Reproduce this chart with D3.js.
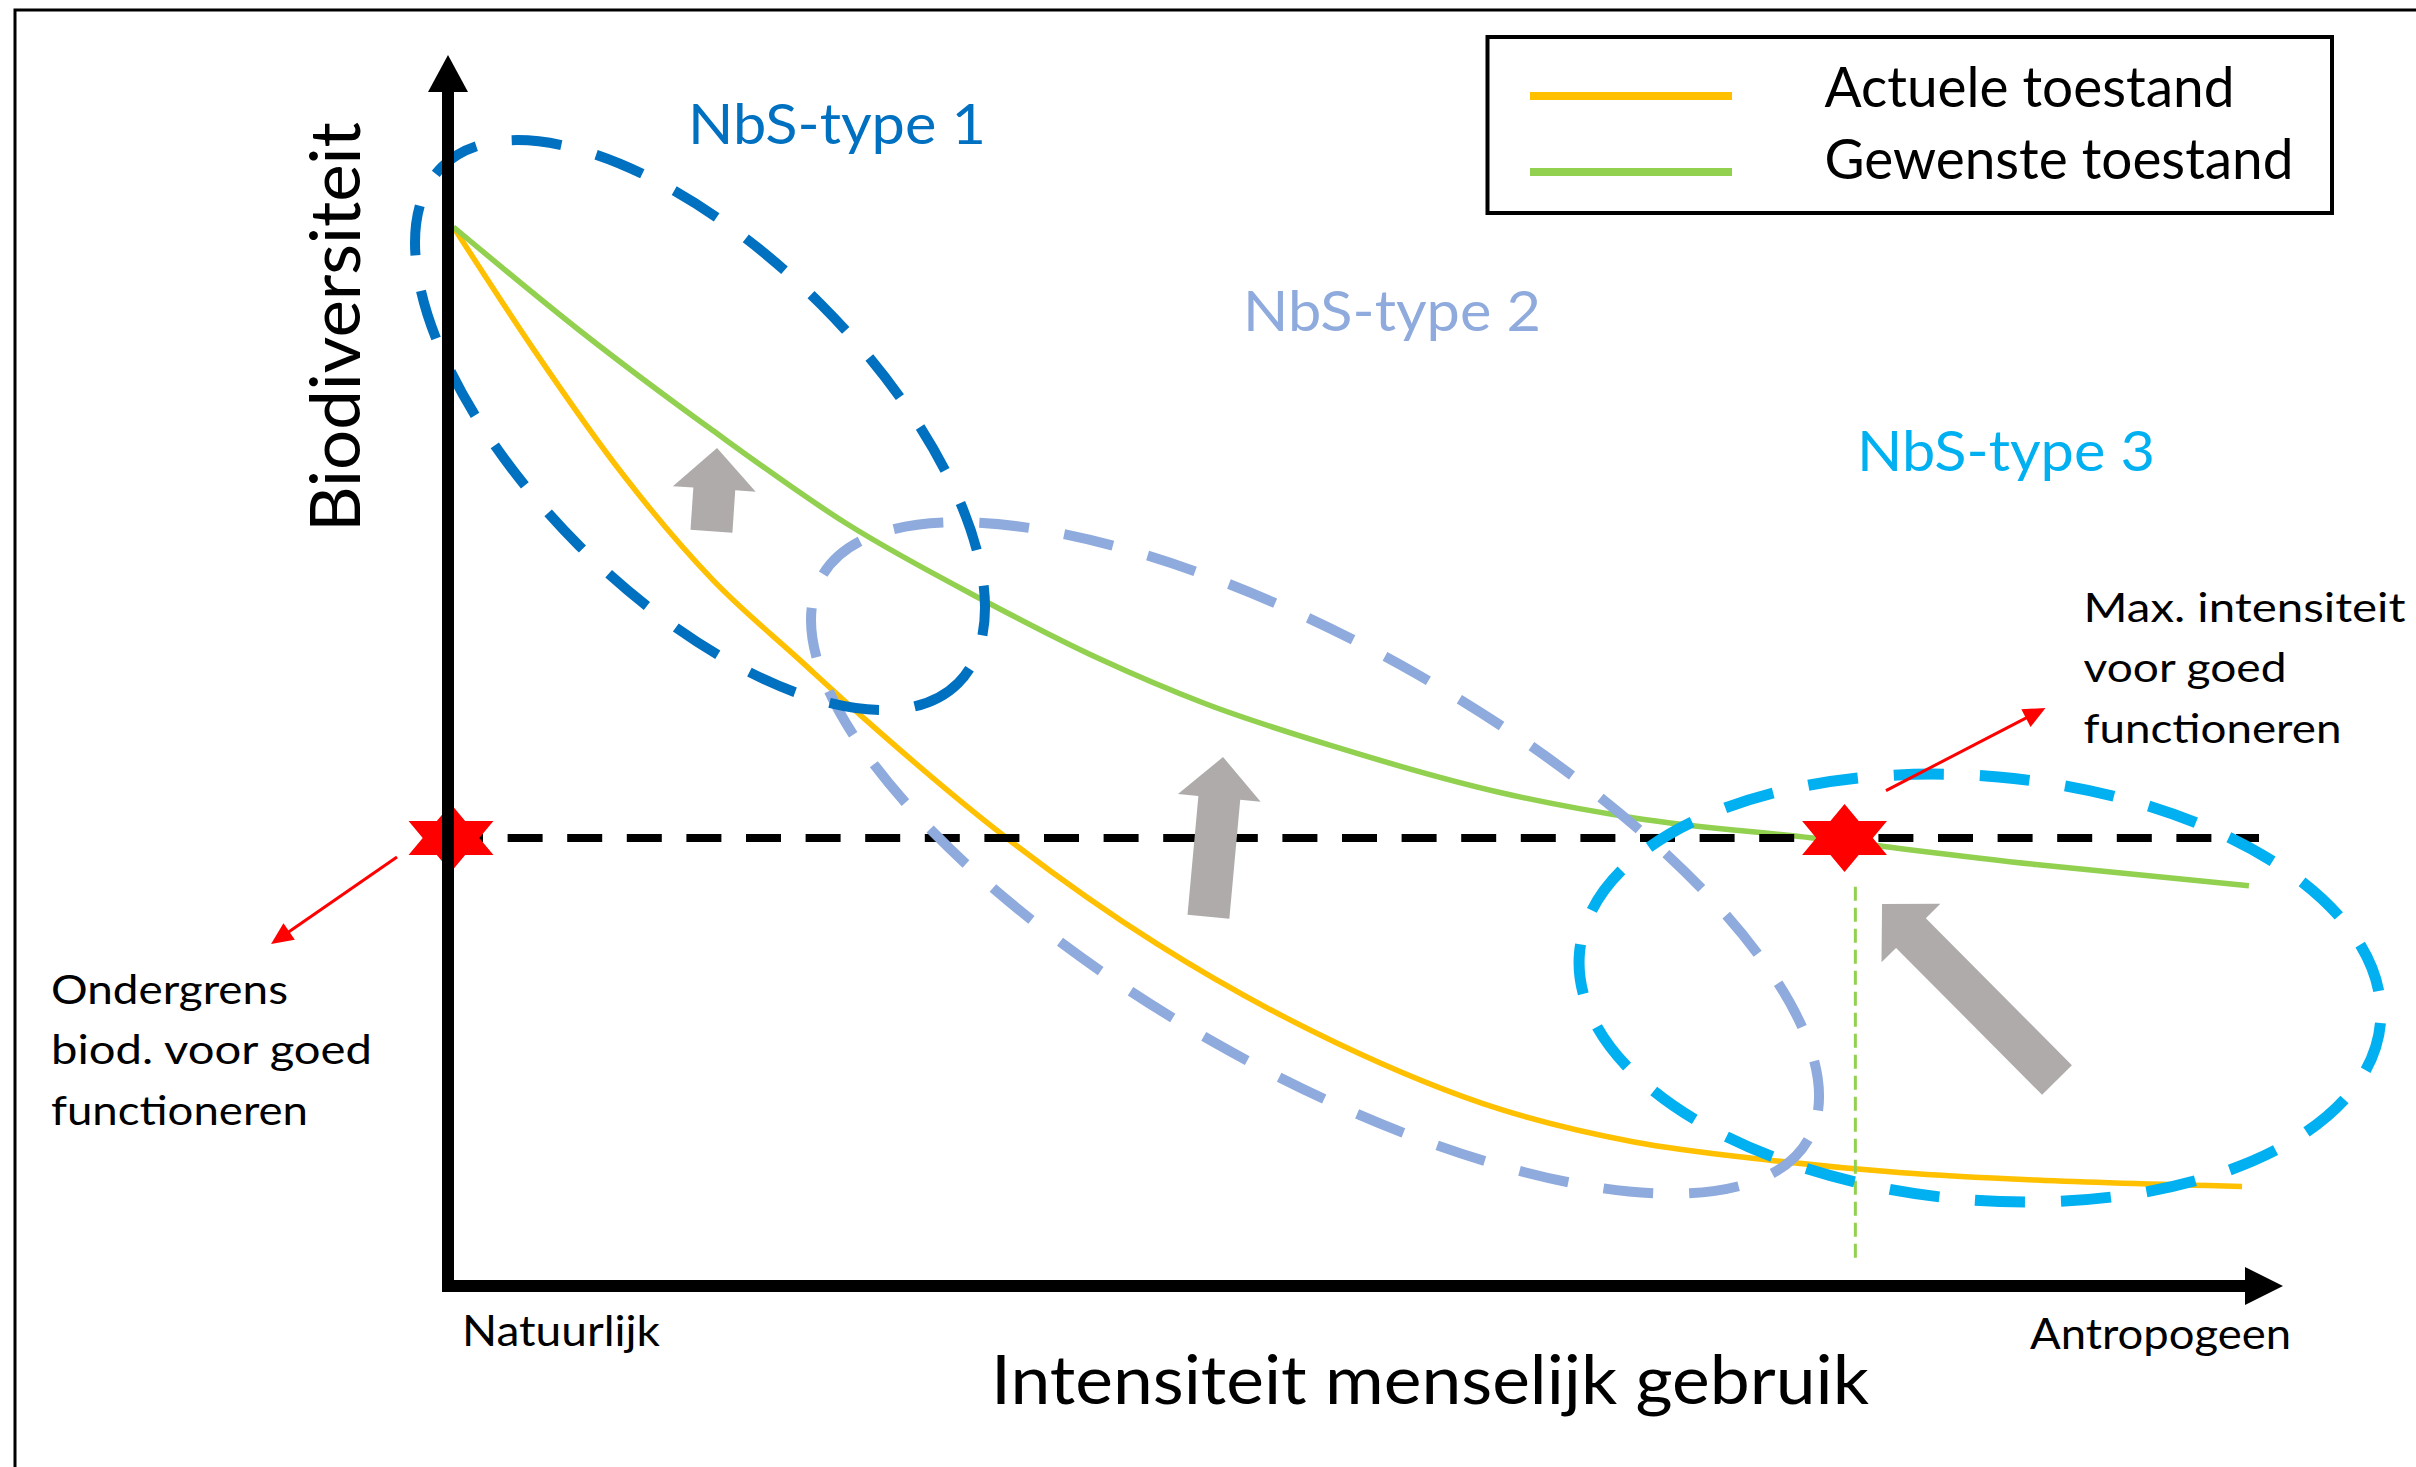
<!DOCTYPE html>
<html lang="nl">
<head>
<meta charset="UTF-8">
<title>Biodiversiteit en intensiteit menselijk gebruik</title>
<script src="https://d3js.org/d3.v7.min.js"></script>
<style>
  body { margin: 0; background: #fff; }
  svg { display: block; }
  text { font-family: Lato, "Open Sans", sans-serif; }
</style>
</head>
<body>
<div id="chart"></div>
<script>
// x: intensiteit menselijk gebruik (0 = natuurlijk, 100 = antropogeen)
// y: biodiversiteit (0 - 100)
var actueelX = [0.3, 4.77, 9.72, 14.68, 19.53, 23.09, 30.93, 39.35, 49.26, 58.38, 65.82, 73.25, 80.69, 88.12, 99.56];
var actueelY = [100, 88.4, 76.6, 66.7, 59.1, 53.6, 42.4, 32.3, 23.0, 16.7, 13.6, 11.9, 10.7, 10.0, 9.4];
var gewenstX = [0.3, 7.25, 14.68, 22.11, 29.55, 36.18, 42, 49.26, 58.38, 65.82, 75.72, 88.11, 99.94];
var gewenstY = [100, 90.3, 80.8, 72.0, 64.9, 59.2, 55.0, 50.9, 46.6, 44.2, 42.3, 39.8, 37.8];

var ondergrens = 42.3;      // ondergrens biodiversiteit voor goed functioneren
var drempelEinde = 100.5;
var maxIntensiteit = 77.5;  // ster op de gewenste curve
var loodlijnX = 78.1;
var loodlijnY = [37.7, 2.3];

// NbS-ellipsen: uiteinden van de lange as en verhouding korte / lange as
var nbsNamen = ["NbS-type 1", "NbS-type 2", "NbS-type 3"];
var nbsAsStart = [[-0.34, 105.67], [20.75, 67.03], [62.79, 31.44]];
var nbsAsEinde = [[28.31, 56.93], [75.48, 13.81], [107.24, 24.83]];
var nbsVerhouding = [0.468, 0.37, 0.527];

// grijze pijlen (van -> naar)
var pijlVan = [[14.62, 71.27], [42.20, 34.87], [89.29, 19.45]];
var pijlNaar = [[14.93, 79.13], [43.01, 49.95], [79.58, 36.07]];

// rode aanwijspijlen bij de sterren
var wijsVan = [[-2.83, 40.51], [79.80, 46.78]];
var wijsNaar = [[-9.82, 32.29], [88.65, 54.58]];

var legendaLabels = ["Actuele toestand", "Gewenste toestand"];
var ondergrensTekst = ["Ondergrens", "biod. voor goed", "functioneren"];
var maxTekst = ["Max. intensiteit", "voor goed", "functioneren"];

var W = 2416, H = 1467;
var oranje = '#FFC000', groen = '#92D050', grijs = '#AFABAB', rood = '#FF0000';
var nbsKleur = ['#0070C0', '#8FAADC', '#00B0F0'];

var svg = d3.select('#chart').append('svg')
    .attr('width', W)
    .attr('height', H);

svg.append('rect').attr('width', W).attr('height', H).attr('fill', '#fff');

var x = d3.scaleLinear().domain([0, 100]).range([448, 2250]);
var y = d3.scaleLinear().domain([0, 100]).range([1286, 227]);

// kader (alleen links en boven zichtbaar)
svg.append('path')
    .attr('d', 'M15,' + H + 'V10H' + W)
    .attr('fill', 'none')
    .attr('stroke', '#000')
    .attr('stroke-width', 3);

// curves
var lijn = d3.line()
    .x(function(d) { return x(d[0]); })
    .y(function(d) { return y(d[1]); })
    .curve(d3.curveMonotoneX);

svg.append('path')
    .datum(d3.zip(actueelX, actueelY))
    .attr('d', lijn)
    .attr('fill', 'none')
    .attr('stroke', oranje)
    .attr('stroke-width', 5.5);

svg.append('path')
    .datum(d3.zip(gewenstX, gewenstY))
    .attr('d', lijn)
    .attr('fill', 'none')
    .attr('stroke', groen)
    .attr('stroke-width', 5.5);

// ondergrens (zwart gestreept)
svg.append('line')
    .attr('x1', x(0)).attr('x2', x(drempelEinde))
    .attr('y1', y(ondergrens)).attr('y2', y(ondergrens))
    .attr('stroke', '#000')
    .attr('stroke-width', 8)
    .attr('stroke-dasharray', '35 24.6');

// loodlijn vanaf max. intensiteit
svg.append('line')
    .attr('x1', x(loodlijnX)).attr('x2', x(loodlijnX))
    .attr('y1', y(loodlijnY[0])).attr('y2', y(loodlijnY[1]))
    .attr('stroke', groen)
    .attr('stroke-width', 3)
    .attr('stroke-dasharray', '14 7');

// NbS-ellipsen
var volgorde = [1, 0, 2];
volgorde.forEach(function(i) {
    var p1 = [x(nbsAsStart[i][0]), y(nbsAsStart[i][1])];
    var p2 = [x(nbsAsEinde[i][0]), y(nbsAsEinde[i][1])];
    var cx = (p1[0] + p2[0]) / 2, cy = (p1[1] + p2[1]) / 2;
    var a = Math.hypot(p2[0] - p1[0], p2[1] - p1[1]) / 2;
    var hoek = Math.atan2(p2[1] - p1[1], p2[0] - p1[0]) * 180 / Math.PI;
    svg.append('ellipse')
        .attr('transform', 'translate(' + cx + ',' + cy + ') rotate(' + hoek + ')')
        .attr('rx', a)
        .attr('ry', a * nbsVerhouding[i])
        .attr('fill', 'none')
        .attr('stroke', nbsKleur[i])
        .attr('stroke-width', i === 2 ? 11 : 10)
        .attr('stroke-dasharray', '50 36');
});

// grijze blokpijlen
function blokPijl(van, naar, schacht, kop, kopLengte) {
    var L = Math.hypot(naar[0] - van[0], naar[1] - van[1]);
    var u = [(naar[0] - van[0]) / L, (naar[1] - van[1]) / L];
    var n = [-u[1], u[0]];
    function p(along, side) {
        return [van[0] + u[0] * along + n[0] * side, van[1] + u[1] * along + n[1] * side];
    }
    var k = L - kopLengte;
    return [p(0, schacht), p(k, schacht), p(k, kop), p(L, 0), p(k, -kop), p(k, -schacht), p(0, -schacht)];
}

pijlVan.forEach(function(d, i) {
    var pts = blokPijl([x(d[0]), y(d[1])], [x(pijlNaar[i][0]), y(pijlNaar[i][1])], 21, 41.5, 41);
    svg.append('path')
        .attr('d', d3.line()(pts) + 'Z')
        .attr('fill', grijs);
});

// rode sterren
function ster(cx, cy, rx, ry) {
    var pts = [];
    for (var k = 0; k < 12; k++) {
        var ang = (-90 + k * 30) * Math.PI / 180;
        var f = k % 2 === 0 ? 1 : 1 / Math.sqrt(3);
        pts.push([cx + Math.cos(ang) * rx * f, cy + Math.sin(ang) * ry * f]);
    }
    return d3.line()(pts) + 'Z';
}

[0, maxIntensiteit].forEach(function(v) {
    svg.append('path')
        .attr('d', ster(x(v) + (v === 0 ? 3 : 0), y(ondergrens), 49, 34))
        .attr('fill', rood);
});

// rode aanwijspijlen
wijsVan.forEach(function(d, i) {
    var a = [x(d[0]), y(d[1])], b = [x(wijsNaar[i][0]), y(wijsNaar[i][1])];
    var L = Math.hypot(b[0] - a[0], b[1] - a[1]);
    var u = [(b[0] - a[0]) / L, (b[1] - a[1]) / L];
    var n = [-u[1], u[0]];
    var kl = 22, kb = 10;
    var basis = [b[0] - u[0] * kl, b[1] - u[1] * kl];
    svg.append('line')
        .attr('x1', a[0]).attr('y1', a[1])
        .attr('x2', basis[0] + u[0] * 2).attr('y2', basis[1] + u[1] * 2)
        .attr('stroke', rood)
        .attr('stroke-width', 3);
    svg.append('path')
        .attr('d', d3.line()([b, [basis[0] + n[0] * kb, basis[1] + n[1] * kb], [basis[0] - n[0] * kb, basis[1] - n[1] * kb]]) + 'Z')
        .attr('fill', rood);
});

// assen
var x0 = x(0), y0 = y(0);
svg.append('path')
    .attr('d', d3.line()([[x0, 91], [x0, y0], [2246, y0]]))
    .attr('fill', 'none')
    .attr('stroke', '#000')
    .attr('stroke-width', 12)
    .attr('stroke-linejoin', 'miter');
svg.append('path')
    .attr('d', d3.line()([[x0, 55], [x0 - 20, 92], [x0 + 20, 92]]) + 'Z')
    .attr('fill', '#000');
svg.append('path')
    .attr('d', d3.line()([[2283, y0], [2245, y0 - 19], [2245, y0 + 19]]) + 'Z')
    .attr('fill', '#000');

// teksten
function tekst(str, tx, ty, size, lengte, kleur) {
    return svg.append('text')
        .attr('x', tx)
        .attr('y', ty)
        .attr('font-size', size)
        .attr('fill', kleur || '#000')
        .attr('textLength', lengte)
        .attr('lengthAdjust', 'spacingAndGlyphs')
        .text(str);
}

svg.append('text')
    .attr('transform', 'translate(360,327) rotate(-90)')
    .attr('text-anchor', 'middle')
    .attr('font-family', '"DejaVu Sans", sans-serif')
    .attr('font-size', 70)
    .attr('textLength', 410)
    .attr('lengthAdjust', 'spacingAndGlyphs')
    .text('Biodiversiteit');

tekst('Intensiteit menselijk gebruik', 991, 1404, 68, 878);
tekst('Natuurlijk', 462, 1346, 42, 198);
tekst('Antropogeen', 2030, 1349, 42, 261);

var nbsPos = [[688, 144], [1243, 331], [1857, 471]];
nbsNamen.forEach(function(s, i) {
    tekst(s, nbsPos[i][0], nbsPos[i][1], 56, 298, nbsKleur[i]);
});

var ondLengtes = [237, 321, 257];
ondergrensTekst.forEach(function(s, i) {
    tekst(s, 51, 1003.5 + i * 60.7, 40, ondLengtes[i]);
});
var maxLengtes = [322, 203, 258];
maxTekst.forEach(function(s, i) {
    tekst(s, 2083.5, 621.7 + i * 60.5, 40, maxLengtes[i]);
});

// legenda
var leg = svg.append('g');
leg.append('rect')
    .attr('x', 1487.5).attr('y', 37)
    .attr('width', 844.5).attr('height', 176)
    .attr('fill', '#fff')
    .attr('stroke', '#000')
    .attr('stroke-width', 4);
var legKleur = [oranje, groen];
var legLengtes = [410, 469];
legendaLabels.forEach(function(s, i) {
    var ly = 96 + i * 76;
    leg.append('line')
        .attr('x1', 1530).attr('x2', 1732)
        .attr('y1', ly).attr('y2', ly)
        .attr('stroke', legKleur[i])
        .attr('stroke-width', 8);
    tekst(s, 1824.5, 107 + i * 72, 56, legLengtes[i]);
});
</script>
</body>
</html>
